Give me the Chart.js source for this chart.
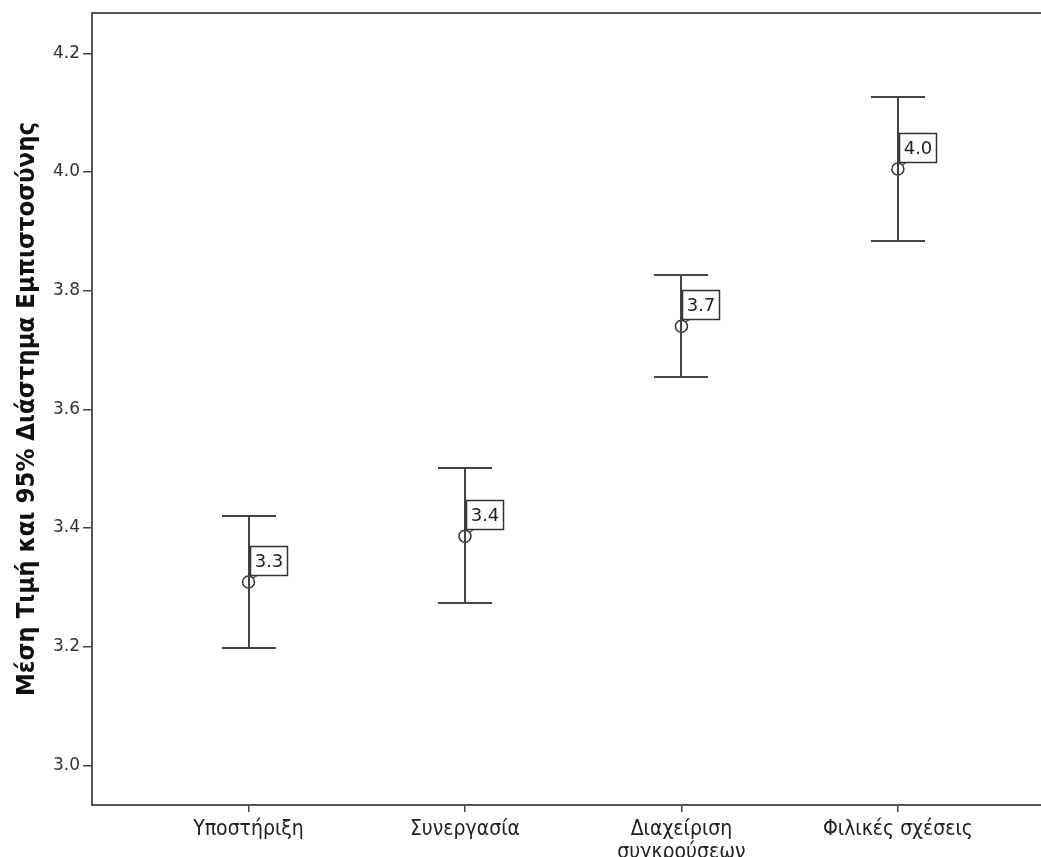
<!DOCTYPE html>
<html>
<head>
<meta charset="utf-8">
<script src="https://cdn.jsdelivr.net/npm/chart.js@4/dist/chart.umd.min.js"></script>
<style>
  html, body { margin: 0; padding: 0; background: #fff; overflow: hidden; }
  #wrap { width: 1041px; height: 857px; position: relative; overflow: hidden; }
  canvas { display: block; }
</style>
</head>
<body>
<div id="wrap"><canvas id="c" width="1050" height="857"></canvas></div>
<script>
// Groups along the horizontal axis (multi-line labels as arrays)
const categories = [
  'Υποστήριξη',
  'Συνεργασία',
  ['Διαχείριση', 'συγκρούσεων'],
  'Φιλικές σχέσεις'
];
// Mean and 95% confidence interval bounds per group
const means = [3.309, 3.386, 3.740, 4.005];
const lowerCI = [3.198, 3.274, 3.655, 3.883];
const upperCI = [3.420, 3.501, 3.826, 4.126];
// Value axis ticks
const yTicks = [3.0, 3.2, 3.4, 3.6, 3.8, 4.0, 4.2];

const INK = '#444';
const CONDENSED = "'Liberation Sans Narrow', 'DejaVu Sans Condensed', 'Arial Narrow', sans-serif";

// Draws the CI whiskers, caps, frame line and the value boxes
const errorBars = {
  id: 'errorBars',
  afterDatasetsDraw(chart) {
    const { ctx, scales: { x, y }, chartArea } = chart;
    ctx.save();
    // top frame line
    ctx.strokeStyle = '#555';
    ctx.lineWidth = 2;
    ctx.beginPath();
    ctx.moveTo(chartArea.left, chartArea.top);
    ctx.lineTo(chart.width, chartArea.top);
    ctx.stroke();

    means.forEach((m, i) => {
      const px = Math.round(x.getPixelForValue(i));
      const yl = Math.round(y.getPixelForValue(lowerCI[i]));
      const yu = Math.round(y.getPixelForValue(upperCI[i]));
      const ym = y.getPixelForValue(m);
      const cap = 27;
      ctx.strokeStyle = INK;
      ctx.lineWidth = 2;
      ctx.beginPath();
      ctx.moveTo(px, yu); ctx.lineTo(px, yl);
      ctx.moveTo(px - cap, yu); ctx.lineTo(px + cap, yu);
      ctx.moveTo(px - cap, yl); ctx.lineTo(px + cap, yl);
      ctx.stroke();

      // leader from the mean marker to its value box
      ctx.lineWidth = 1.3;
      ctx.beginPath();
      ctx.moveTo(px + 4, ym - 4);
      ctx.lineTo(px + 9, ym - 7);
      ctx.stroke();

      // value box
      const text = m.toFixed(1);
      ctx.font = "18px 'DejaVu Sans', sans-serif";
      const tw = ctx.measureText(text).width;
      const bw = Math.round(tw + 8), bh = 29;
      const bx = px + 1.5;
      const by = Math.round(ym - 36) + 0.5;
      ctx.fillStyle = '#fff';
      ctx.fillRect(bx, by, bw, bh);
      ctx.lineWidth = 1.5;
      ctx.strokeStyle = '#333';
      ctx.strokeRect(bx, by, bw, bh);
      ctx.fillStyle = '#222';
      ctx.textAlign = 'center';
      ctx.textBaseline = 'middle';
      ctx.fillText(text, bx + bw / 2, by + bh / 2 + 1);
    });
    ctx.restore();
  }
};

const pointData = means.map((m, i) => ({ x: i, y: m }));

new Chart(document.getElementById('c'), {
  type: 'scatter',
  data: {
    datasets: [{
      data: pointData,
      pointStyle: 'circle',
      pointRadius: 6,
      pointHoverRadius: 6,
      pointBorderWidth: 1.5,
      pointBorderColor: '#333',
      pointBackgroundColor: 'rgba(0,0,0,0)'
    }]
  },
  options: {
    responsive: false,
    animation: false,
    events: [],
    layout: { padding: { top: 13, right: 0, left: 0, bottom: 0 } },
    plugins: { legend: { display: false }, tooltip: { enabled: false } },
    scales: {
      x: {
        type: 'linear',
        min: -0.723,
        max: 3.668,
        afterBuildTicks(scale) {
          scale.ticks = categories.map((_, i) => ({ value: i }));
        },
        afterFit(scale) {
          scale.height = 52;
          scale.paddingLeft = 0;
          scale.paddingRight = 0;
        },
        ticks: {
          autoSkip: false,
          maxRotation: 0,
          padding: 7,
          color: '#222',
          font: { family: CONDENSED, size: 21, lineHeight: 1.05 },
          callback: (v) => categories[v]
        },
        grid: {
          drawOnChartArea: false,
          drawTicks: true,
          tickLength: 7,
          color: INK,
          lineWidth: 1.5
        },
        border: { display: true, color: '#555', width: 2 }
      },
      y: {
        type: 'linear',
        min: 2.933,
        max: 4.268,
        afterBuildTicks(scale) {
          scale.ticks = yTicks.map(v => ({ value: v }));
        },
        afterFit(scale) {
          scale.width = 92;
          scale.paddingTop = 0;
          scale.paddingBottom = 0;
        },
        ticks: {
          padding: 3,
          color: '#333',
          font: { family: "'DejaVu Sans', sans-serif", size: 17 },
          callback: (v) => v.toFixed(1)
        },
        grid: {
          drawOnChartArea: false,
          drawTicks: true,
          tickLength: 9,
          color: INK,
          lineWidth: 1.5
        },
        border: { display: true, color: '#555', width: 2 },
        title: {
          display: true,
          text: 'Μέση Τιμή και 95% Διάστημα Εμπιστοσύνης',
          color: '#111',
          font: { family: "'DejaVu Sans Condensed', 'Liberation Sans Narrow', sans-serif", size: 25.5, weight: 'bold' },
          padding: { top: 12, bottom: 0 }
        }
      }
    }
  },
  plugins: [errorBars]
});
</script>
</body>
</html>
